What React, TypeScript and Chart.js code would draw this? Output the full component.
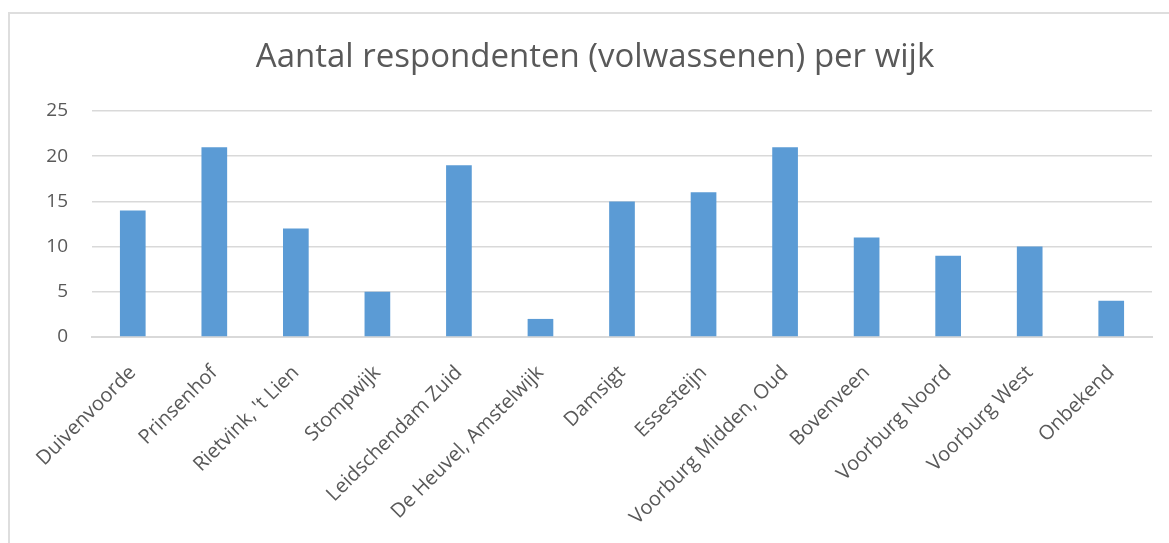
import React, { useEffect, useRef } from "react";
import { Chart, registerables } from "chart.js";

Chart.register(...registerables);

const categories: string[] = [
  "Duivenvoorde",
  "Prinsenhof",
  "Rietvink, 't Lien",
  "Stompwijk",
  "Leidschendam Zuid",
  "De Heuvel, Amstelwijk",
  "Damsigt",
  "Essesteijn",
  "Voorburg Midden, Oud",
  "Bovenveen",
  "Voorburg Noord",
  "Voorburg West",
  "Onbekend",
];

const respondents: number[] = [14, 21, 12, 5, 19, 2, 15, 16, 21, 11, 9, 10, 4];

const yTicks: number[] = [0, 5, 10, 15, 20, 25];

const chartTitle = "Aantal respondenten (volwassenen) per wijk";

const FONT = '"Open Sans", "DejaVu Sans", sans-serif';
const TEXT = "#595959";
const GRID = "#d9d9d9";
const BAR = "#5b9bd5";

const titlePlugin = {
  id: "excelTitle",
  afterDraw(chart: any) {
    const ctx = chart.ctx;
    ctx.save();
    ctx.font = `33px ${FONT}`;
    ctx.fillStyle = TEXT;
    ctx.textAlign = "center";
    ctx.textBaseline = "alphabetic";
    ctx.fillText(chartTitle, 595, 67);
    ctx.restore();
  },
};

export default function App() {
  const canvasRef = useRef<HTMLCanvasElement | null>(null);

  useEffect(() => {
    if (!canvasRef.current) return;
    const chart = new Chart(canvasRef.current, {
      type: "bar",
      data: {
        labels: categories,
        datasets: [
          {
            label: chartTitle,
            data: respondents,
            backgroundColor: BAR,
            borderWidth: 0,
            barPercentage: 0.315,
            categoryPercentage: 1,
          },
        ],
      },
      options: {
        animation: false,
        responsive: false,
        maintainAspectRatio: false,
        devicePixelRatio: 1,
        layout: { padding: { top: 111, left: 0, right: 17, bottom: 0 } },
        plugins: {
          legend: { display: false },
          title: { display: false },
          tooltip: { enabled: false },
        },
        scales: {
          y: {
            min: 0,
            max: 25,
            afterBuildTicks: (scale: any) => {
              scale.ticks = yTicks.map((v) => ({ value: v }));
            },
            afterFit: (scale: any) => {
              scale.width = 92;
            },
            ticks: {
              color: TEXT,
              font: { family: FONT, size: 19 },
              padding: 24,
            },
            grid: { color: GRID, lineWidth: 1.5, drawTicks: false },
            border: { display: false },
          },
          x: {
            afterFit: (scale: any) => {
              scale.height = 206;
            },
            ticks: {
              color: TEXT,
              font: { family: FONT, size: 20 },
              minRotation: 45,
              maxRotation: 45,
              autoSkip: false,
              padding: 24,
            },
            grid: { display: false, drawTicks: false },
            border: { display: true, color: GRID, width: 2 },
          },
        },
      },
      plugins: [titlePlugin],
    });
    return () => chart.destroy();
  }, []);

  return (
    <div
      style={{
        position: "fixed",
        left: 0,
        top: 0,
        width: 1169,
        height: 543,
        overflow: "hidden",
        background: "#ffffff",
      }}
    >
      <div
        style={{
          position: "absolute",
          left: 8,
          top: 12,
          width: 1300,
          height: 700,
          border: "2px solid #dedede",
          boxSizing: "border-box",
        }}
      />
      <canvas
        ref={canvasRef}
        width={1169}
        height={543}
        style={{ position: "absolute", left: 0, top: 0, width: 1169, height: 543 }}
      />
    </div>
  );
}
